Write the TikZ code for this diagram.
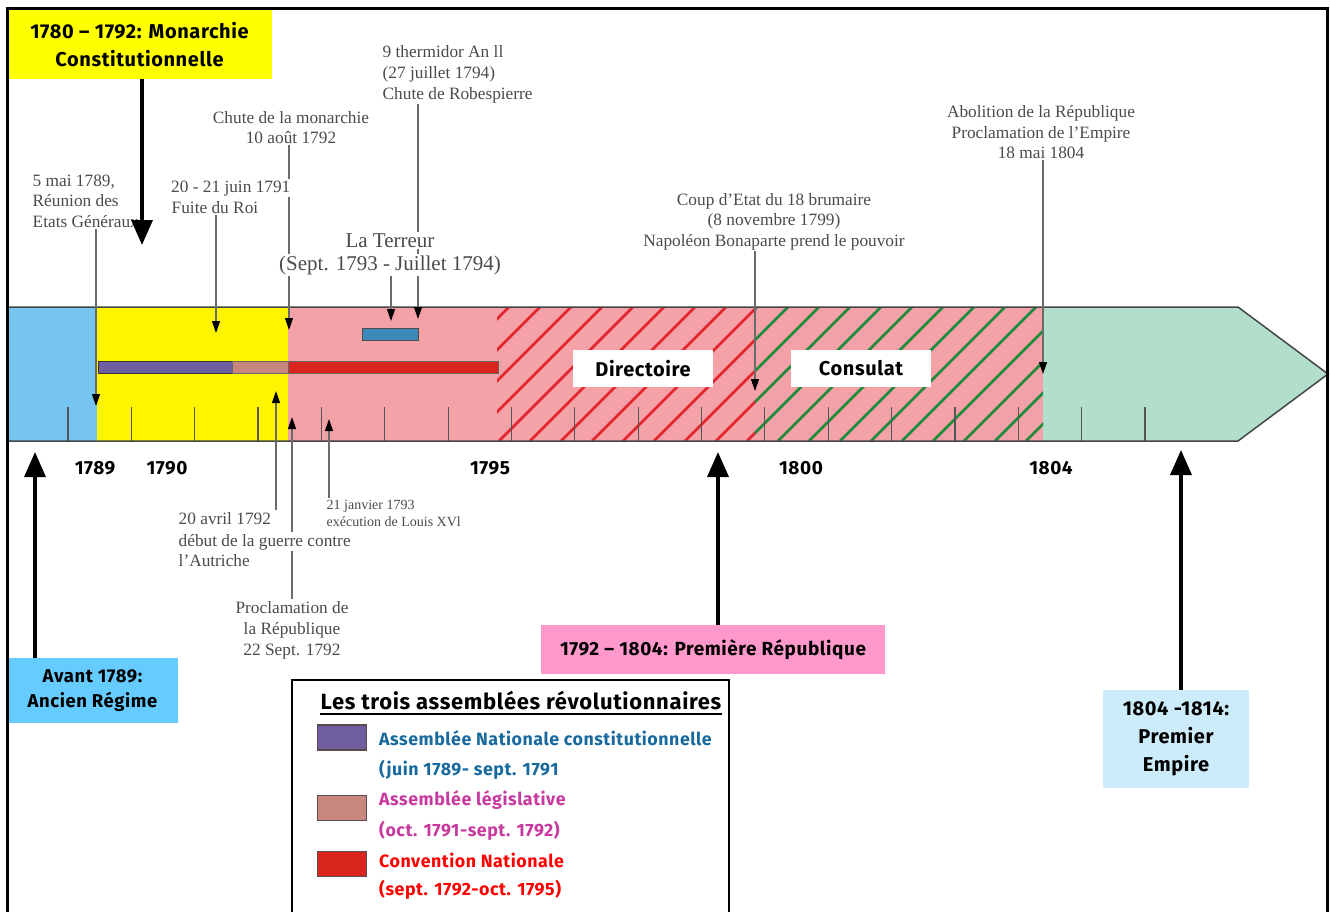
\documentclass[tikz,border=0pt]{standalone}
\usepackage{fontspec}
\setmainfont{Liberation Serif}
\newfontfamily\comic{Fira Sans}[LetterSpace=3]
\usetikzlibrary{arrows.meta}
\pgfdeclarelayer{back}
\pgfdeclarelayer{lines}
\pgfsetlayers{back,lines,main}
\definecolor{blueReg}{HTML}{75C5F0}
\definecolor{yellowReg}{HTML}{FFF500}
\definecolor{pinkReg}{HTML}{F4A1A8}
\definecolor{tealReg}{HTML}{B2DFCB}
\definecolor{hatchR}{HTML}{E2242B}
\definecolor{hatchG}{HTML}{1B8A3B}
\definecolor{purpleBar}{HTML}{6E5E9F}
\definecolor{tanBar}{HTML}{C8877E}
\definecolor{redBar}{HTML}{D9251D}
\definecolor{smallBlue}{HTML}{3C88B8}
\definecolor{monYellow}{HTML}{FFFF00}
\definecolor{avantBlue}{HTML}{66CCFF}
\definecolor{repPink}{HTML}{FF99CC}
\definecolor{empBlue}{HTML}{CCEBFB}
\definecolor{legBlue}{HTML}{17699E}
\definecolor{legMag}{HTML}{C7399F}
\definecolor{legRed}{HTML}{FF0000}
\definecolor{anngray}{HTML}{4A4A4A}
\definecolor{linegray}{HTML}{6B6B6B}
\definecolor{tickgray}{HTML}{555555}
\definecolor{barline}{HTML}{454545}
\definecolor{swborder}{HTML}{5A4A4A}
\begin{document}
\begin{tikzpicture}[x=1pt,y=-1pt,
  ann/.style={font=\fontsize{17.3}{20}\selectfont, text=anngray, inner sep=1.5pt},
  annw/.style={ann, fill=white},
  bigann/.style={font=\fontsize{21}{24}\selectfont, text=anngray, inner sep=1.5pt, fill=white},
  smallann/.style={font=\fontsize{14}{17}\selectfont, text=anngray, inner sep=1.5pt},
  period/.style={font=\comic\bfseries\fontsize{20}{28}\selectfont, align=center, inner sep=0pt},
  year/.style={font=\comic\bfseries\fontsize{19}{22}\selectfont, inner sep=0pt},
  leg/.style={font=\comic\bfseries\fontsize{17.8}{20}\selectfont, inner sep=0pt},
  evline/.style={draw=linegray, line width=1.2pt, -{Triangle[length=12pt,width=8pt,color=black]}},
  bigarrow/.style={draw=black, line width=3.5pt, -{Triangle[length=25pt,width=21pt]}},
  tickmark/.style={draw=tickgray, line width=1.2pt},
  swatch/.style={draw=swborder, line width=1.5pt, minimum width=49pt, minimum height=25pt, inner sep=0pt},
  hatchline/.style={line width=2.7pt},
]
\useasboundingbox (0,0) rectangle (1330,911);

% ---------------- timeline bar ----------------
\begin{pgfonlayer}{back}
  \fill[blueReg] (7,307) rectangle (97,441);
  \fill[yellowReg] (97,307) rectangle (288,441);
  \fill[pinkReg] (288,307) rectangle (1043,441);
  \fill[tealReg] (1043,307) -- (1238,307) -- (1328,374) -- (1238,441) -- (1043,441) -- cycle;
  \begin{scope}
    \clip (497,307) rectangle (755,441);
    \foreach \k in {-2,...,14} \draw[hatchline, hatchR] ({540+31*\k},307) -- ++(-134,134);
  \end{scope}
  \begin{scope}
    \clip (755,307) rectangle (1043,441);
    \foreach \k in {5,...,21} \draw[hatchline, hatchG] ({540+31*\k},307) -- ++(-134,134);
  \end{scope}
  \foreach \i in {0,...,17} \draw[tickmark] ({68+63.35*\i},407) -- ++(0,34);
  \draw[barline, line width=1.5pt] (7,307) -- (1238,307) -- (1328,374) -- (1238,441) -- (7,441);
  \draw[black!80, line width=0.8pt, fill=purpleBar] (98,361) rectangle (232,373);
  \draw[black!60, line width=0.8pt, fill=tanBar] (232,361) rectangle (288,373);
  \draw[black!60, line width=0.8pt, fill=redBar] (288,361) rectangle (498,373);
  \draw[black!70, line width=0.8pt, fill=smallBlue] (362,328) rectangle (418,340);
\end{pgfonlayer}

\node[period, fill=white, minimum width=140pt, minimum height=37pt] (directoire) at (643,368.5) {Directoire};
\node[period, fill=white, minimum width=140pt, minimum height=37pt] (consulat) at (861,368.5) {Consulat};

% ---------------- years ----------------
\node[year, anchor=base] (y1789) at (95,474) {1789};
\node[year, anchor=base] (y1790) at (167,474) {1790};
\node[year, anchor=base] (y1795) at (490,474) {1795};
\node[year, anchor=base] (y1800) at (801,474) {1800};
\node[year, anchor=base] (y1804) at (1051,474) {1804};

% ---------------- annotations above ----------------
\node[ann, anchor=base west] (mai1) at (31,186) {5 mai 1789,};
\node[ann, anchor=base west] (mai2) at (31,206) {Réunion des};
\node[ann, anchor=base west] (mai3) at (31,227) {Etats Généraux};

\node[annw, anchor=base west, inner xsep=5pt] (juin1) at (166,192) {20 - 21 juin 1791};
\node[ann, anchor=base west] (juin2) at (170,213) {Fuite du Roi};

\node[ann, anchor=base] (chute1) at (291,123) {Chute de la monarchie};
\node[ann, anchor=base] (chute2) at (291,143) {10 août 1792};

\node[ann, anchor=base west] (therm1) at (381,57) {9 thermidor An ll};
\node[ann, anchor=base west] (therm2) at (381,78) {(27 juillet 1794)};
\node[ann, anchor=base west] (therm3) at (381,99) {Chute de Robespierre};

\node[bigann, anchor=base] (terr1) at (390,247) {La Terreur};
\node[bigann, anchor=base] (terr2) at (390,270) {(Sept. 1793 - Juillet 1794)};

\node[ann, anchor=base] (brum1) at (774,205) {Coup d’Etat du 18 brumaire};
\node[ann, anchor=base] (brum2) at (774,225) {(8 novembre 1799)};
\node[ann, anchor=base] (brum3) at (774,246) {Napoléon Bonaparte prend le pouvoir};

\node[ann, anchor=base] (abol1) at (1041,117) {Abolition de la République};
\node[ann, anchor=base] (abol2) at (1041,138) {Proclamation de l’Empire};
\node[ann, anchor=base] (abol3) at (1041,158) {18 mai 1804};

% ---------------- annotations below ----------------
\node[ann, anchor=base west] (avril1) at (177,524) {20 avril 1792};
\node[annw, anchor=base west] (avril2) at (177,546) {début de la guerre contre};
\node[ann, anchor=base west] (avril3) at (177,566) {l’Autriche};

\node[ann, anchor=base] (procl1) at (292,613) {Proclamation de};
\node[ann, anchor=base] (procl2) at (292,634) {la République};
\node[ann, anchor=base] (procl3) at (292,655) {22 Sept. 1792};

\node[smallann, anchor=base west] (jan1) at (325,509) {21 janvier 1793};
\node[smallann, anchor=base west] (jan2) at (325,526) {exécution de Louis XVl};

% ---------------- event connectors ----------------
\coordinate (mai-tip) at (96,406);
\coordinate (juin-tip) at (216,333);
\coordinate (chute-tip) at (289,330);
\coordinate (therm-tip) at (418,319);
\coordinate (terr-tip) at (391,321);
\coordinate (brum-tip) at (755,391);
\coordinate (abol-tip) at (1043,374);
\coordinate (avril-tip) at (276,391);
\coordinate (procl-tip) at (292,417);
\coordinate (jan-tip) at (329,419);
\begin{pgfonlayer}{lines}
  \draw[evline] (mai3.south -| mai-tip) -- (mai-tip);
  \draw[evline] (juin2.south -| juin-tip) -- (juin-tip);
  \draw[evline] (chute2.south -| chute-tip) -- (chute-tip);
  \draw[evline] (therm3.south -| therm-tip) -- (therm-tip);
  \draw[evline] (terr2.south -| terr-tip) -- (terr-tip);
  \draw[evline] (brum3.south -| brum-tip) -- (brum-tip);
  \draw[evline] (abol3.south -| abol-tip) -- (abol-tip);
  \draw[evline] (avril1.north -| avril-tip) -- (avril-tip);
  \draw[evline] (procl1.north -| procl-tip) -- (procl-tip);
  \draw[evline] (jan1.north -| jan-tip) -- (jan-tip);
\end{pgfonlayer}

% ---------------- period boxes ----------------
\node[period, fill=monYellow, minimum width=265pt, minimum height=69pt] (monarchie) at (139.5,44.5) {1780 – 1792: Monarchie\\Constitutionnelle};
\node[period, fill=avantBlue, minimum width=171pt, minimum height=65pt, font=\comic\bfseries\fontsize{18.5}{25}\selectfont] (avant) at (92.5,690.5) {Avant 1789:\\Ancien Régime};
\node[period, fill=repPink, minimum width=344pt, minimum height=49pt, font=\comic\bfseries\fontsize{19}{24}\selectfont] (republique) at (713,649.5) {1792 – 1804: Première République};
\node[period, fill=empBlue, minimum width=146pt, minimum height=98pt] (empire) at (1176,739) {1804 -1814:\\Premier\\Empire};

\coordinate (mon-tip) at (142,245);
\coordinate (avant-tip) at (35,452);
\coordinate (rep-tip) at (718,452);
\coordinate (emp-tip) at (1181,450);
\draw[bigarrow] (monarchie.south -| mon-tip) -- (mon-tip);
\draw[bigarrow] (avant.north -| avant-tip) -- (avant-tip);
\draw[bigarrow] (republique.north -| rep-tip) -- (rep-tip);
\draw[bigarrow] (empire.north -| emp-tip) -- (emp-tip);

% ---------------- legend ----------------
\draw[black, line width=2.5pt, fill=white] (292,680) rectangle (729,918);
\node[font=\comic\bfseries\fontsize{22}{24}\selectfont, inner sep=0pt, anchor=base] (legtitle) at (521,709) {Les trois assemblées révolutionnaires};
\draw[black, line width=1.8pt] ([yshift=-5pt]legtitle.base west) -- ([yshift=-5pt]legtitle.base east);
\node[swatch, fill=purpleBar] (sw1) at (342,737.5) {};
\node[swatch, fill=tanBar] (sw2) at (342,808) {};
\node[swatch, fill=redBar] (sw3) at (342,864) {};
\node[leg, text=legBlue, anchor=base west] (l1a) at (379,745) {Assemblée Nationale constitutionnelle};
\node[leg, text=legBlue, anchor=base west] (l1b) at (379,775) {(juin 1789- sept. 1791};
\node[leg, text=legMag, anchor=base west] (l2a) at (379,805) {Assemblée législative};
\node[leg, text=legMag, anchor=base west] (l2b) at (379,836) {(oct. 1791-sept. 1792)};
\node[leg, text=legRed, anchor=base west] (l3a) at (379,867) {Convention Nationale};
\node[leg, text=legRed, anchor=base west] (l3b) at (379,895) {(sept. 1792-oct. 1795)};

% ---------------- frame ----------------
\draw[black, line width=3pt] (7,918) -- (7,8) -- (1327,8) -- (1327,918);
\end{tikzpicture}
\end{document}
